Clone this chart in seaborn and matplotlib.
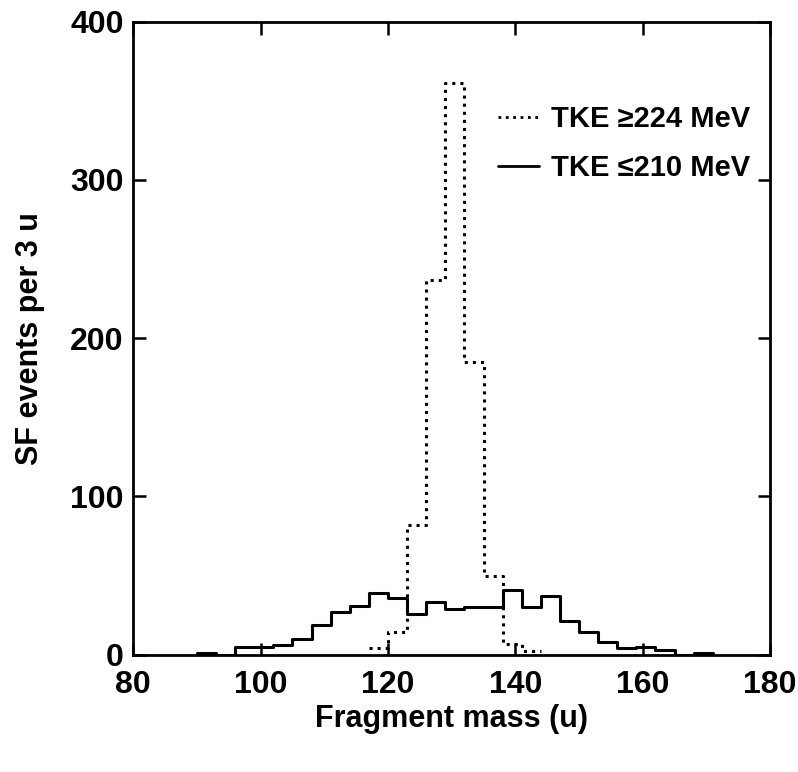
import numpy as np
import pandas as pd
import matplotlib
matplotlib.use("Agg")
import matplotlib.pyplot as plt
import seaborn as sns
from matplotlib.lines import Line2D

# istogrammi SF, bin da 3 u (bordo sinistro di ogni bin)
bin_width = 3
low_tke_edges = [90, 93, 96, 99, 102, 105, 108, 111, 114, 117, 120, 123, 126, 129,
                 132, 135, 138, 141, 144, 147, 150, 153, 156, 159, 162, 165, 168]
low_tke_counts = [1, 0, 5, 5, 6, 10, 19, 27, 31, 39, 36, 26, 33, 29,
                  30, 30, 41, 30, 37, 21, 14, 8, 4, 5, 3, 0, 1]

high_tke_edges = [117, 120, 123, 126, 129, 132, 135, 138, 141]
high_tke_counts = [4, 14, 82, 237, 361, 185, 50, 7, 2]

labels = ["TKE \u2265224 MeV", "TKE \u2264210 MeV"]
x_ticks = [80, 100, 120, 140, 160, 180]
y_ticks = [0, 100, 200, 300, 400]

sns.set_style("ticks")
plt.rcParams['font.family'] = ['Liberation Sans', 'DejaVu Sans']
plt.rcParams['font.weight'] = 'bold'
plt.rcParams['text.color'] = 'black'
plt.rcParams['axes.labelcolor'] = 'black'
plt.rcParams['xtick.color'] = 'black'
plt.rcParams['ytick.color'] = 'black'

fig = plt.figure(figsize=(7.98, 7.72), dpi=100)
ax = fig.add_axes([0.167, 0.152, 0.798, 0.82])


def draw_hist(edges, counts, style):
    df = pd.DataFrame({"mass": np.array(edges, dtype=float) + bin_width / 2,
                       "count": counts})
    bins = list(edges) + [edges[-1] + bin_width]
    sns.histplot(data=df, x="mass", weights="count", bins=bins, element="step",
                 fill=False, color="black", linestyle=style, linewidth=2.2, ax=ax)


draw_hist(high_tke_edges, high_tke_counts, ":")
draw_hist(low_tke_edges, low_tke_counts, "-")

ax.set_xlim(80, 180)
ax.set_ylim(0, 400)
ax.set_xticks(x_ticks)
ax.set_yticks(y_ticks)
ax.tick_params(direction="in", top=True, right=True, length=9, width=1.8,
               labelsize=23)
ax.tick_params(axis="x", pad=11)
ax.tick_params(axis="y", pad=7)
for lab in ax.get_xticklabels() + ax.get_yticklabels():
    lab.set_fontweight("bold")
for sp in ax.spines.values():
    sp.set_visible(True)
    sp.set_linewidth(2)
    sp.set_color("black")

ax.set_xlabel("Fragment mass (u)", fontsize=22, fontweight="bold", labelpad=3)
ax.set_ylabel("SF events per 3 u", fontsize=22, fontweight="bold", labelpad=18)

handles = [Line2D([], [], color="black", linestyle=":", linewidth=2),
           Line2D([], [], color="black", linestyle="-", linewidth=2)]
leg = ax.legend(handles, labels, loc="upper right", bbox_to_anchor=(1.0, 0.9),
                frameon=False, fontsize=21, handlelength=1.4, handletextpad=0.4,
                labelspacing=0.7, borderaxespad=0.3)
for t in leg.get_texts():
    t.set_fontweight("bold")

fig.savefig("out.png", dpi=100)
